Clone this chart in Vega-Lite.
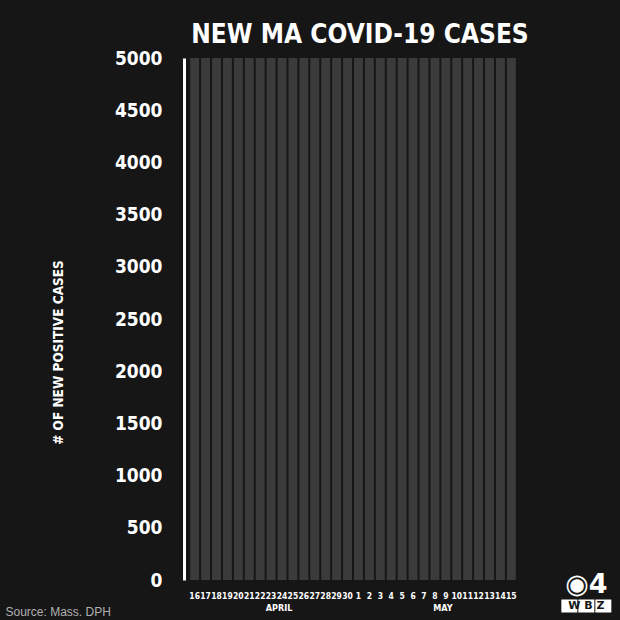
{
  "$schema": "https://vega.github.io/schema/vega-lite/v6.json",
  "width": 330,
  "height": 522,
  "autosize": {"type": "none"},
  "padding": {"left": 188, "top": 58, "right": 102, "bottom": 40},
  "background": "#161616",
  "config": {"view": {"stroke": null}, "font": "DejaVu Sans Condensed"},
  "title": {
    "text": "NEW MA COVID-19 CASES",
    "anchor": "middle",
    "frame": "group",
    "font": "DejaVu Sans Condensed",
    "fontWeight": "bold",
    "fontSize": 26,
    "color": "#ffffff",
    "baseline": "alphabetic",
    "offset": -20,
    "dx": 7
  },
  "datasets": {
    "cases": [
      {"day": "16", "month": "APRIL", "cases": 5000},
      {"day": "17", "month": "APRIL", "cases": 5000},
      {"day": "18", "month": "APRIL", "cases": 5000},
      {"day": "19", "month": "APRIL", "cases": 5000},
      {"day": "20", "month": "APRIL", "cases": 5000},
      {"day": "21", "month": "APRIL", "cases": 5000},
      {"day": "22", "month": "APRIL", "cases": 5000},
      {"day": "23", "month": "APRIL", "cases": 5000},
      {"day": "24", "month": "APRIL", "cases": 5000},
      {"day": "25", "month": "APRIL", "cases": 5000},
      {"day": "26", "month": "APRIL", "cases": 5000},
      {"day": "27", "month": "APRIL", "cases": 5000},
      {"day": "28", "month": "APRIL", "cases": 5000},
      {"day": "29", "month": "APRIL", "cases": 5000},
      {"day": "30", "month": "APRIL", "cases": 5000},
      {"day": "1", "month": "MAY", "cases": 5000},
      {"day": "2", "month": "MAY", "cases": 5000},
      {"day": "3", "month": "MAY", "cases": 5000},
      {"day": "4", "month": "MAY", "cases": 5000},
      {"day": "5", "month": "MAY", "cases": 5000},
      {"day": "6", "month": "MAY", "cases": 5000},
      {"day": "7", "month": "MAY", "cases": 5000},
      {"day": "8", "month": "MAY", "cases": 5000},
      {"day": "9", "month": "MAY", "cases": 5000},
      {"day": "10", "month": "MAY", "cases": 5000},
      {"day": "11", "month": "MAY", "cases": 5000},
      {"day": "12", "month": "MAY", "cases": 5000},
      {"day": "13", "month": "MAY", "cases": 5000},
      {"day": "14", "month": "MAY", "cases": 5000},
      {"day": "15", "month": "MAY", "cases": 5000}
    ],
    "months": [
      {"day": "23", "label": "APRIL", "cases": 0},
      {"day": "8", "label": "MAY", "cases": 0}
    ],
    "logo": [
      {"day": "15", "mark": "◉4", "letters": "W  B  Z", "cases": 0}
    ]
  },
  "encoding": {
    "x": {
      "field": "day",
      "type": "ordinal",
      "sort": null,
      "scale": {"paddingInner": 0.18, "paddingOuter": 0.2},
      "axis": {
        "title": "Source: Mass. DPH",
        "titleX": -183,
        "titleY": 31,
        "titleAlign": "left",
        "titleBaseline": "middle",
        "titleAngle": 0,
        "titleFont": "Liberation Sans",
        "titleFontWeight": "normal",
        "titleFontSize": 12,
        "titleColor": "#b0b0b0",
        "labelAngle": 0,
        "labelOverlap": false,
        "labelFont": "DejaVu Sans Condensed",
        "labelFontWeight": "bold",
        "labelFontSize": 8.5,
        "labelColor": "#ffffff",
        "labelPadding": 11,
        "labelBaseline": "top",
        "domain": false,
        "ticks": false,
        "grid": false
      }
    },
    "y": {
      "field": "cases",
      "type": "quantitative",
      "scale": {"domain": [0, 5000], "nice": false},
      "axis": {
        "title": "# OF NEW POSITIVE CASES",
        "titleX": -126,
        "titleY": 294,
        "titleAngle": -90,
        "titleAlign": "center",
        "titleBaseline": "middle",
        "titleFont": "DejaVu Sans Condensed",
        "titleFontWeight": "bold",
        "titleFontSize": 13.5,
        "titleColor": "#ffffff",
        "values": [0, 500, 1000, 1500, 2000, 2500, 3000, 3500, 4000, 4500, 5000],
        "format": "d",
        "labelFont": "DejaVu Sans Condensed",
        "labelFontWeight": "bold",
        "labelFontSize": 19,
        "labelColor": "#ffffff",
        "labelPadding": 22,
        "labelFlush": false,
        "offset": 4,
        "domainColor": "#ffffff",
        "domainWidth": 3,
        "ticks": false,
        "grid": false
      }
    }
  },
  "layer": [
    {
      "data": {"name": "cases"},
      "mark": {"type": "bar", "color": "#3b3b3b"}
    },
    {
      "data": {"name": "months"},
      "mark": {"type": "text", "color": "#ffffff", "font": "DejaVu Sans Condensed", "fontWeight": "bold", "fontSize": 9, "dy": 28, "dx": 8},
      "encoding": {"text": {"field": "label"}}
    },
    {
      "data": {"name": "logo"},
      "mark": {"type": "point", "filled": true, "opacity": 1, "color": "#ffffff", "size": 2500, "shape": "M-1,-0.26H-0.36V0.26H-1Z M-0.32,-0.26H0.32V0.26H-0.32Z M0.36,-0.26H1V0.26H0.36Z", "xOffset": 75, "yOffset": 26}
    },
    {
      "data": {"name": "logo"},
      "mark": {"type": "text", "color": "#161616", "font": "DejaVu Sans", "fontWeight": "bold", "fontSize": 11, "dx": 75, "dy": 26},
      "encoding": {"text": {"field": "letters"}}
    },
    {
      "data": {"name": "logo"},
      "mark": {"type": "text", "color": "#ffffff", "font": "DejaVu Sans", "fontWeight": "bold", "fontSize": 27, "dx": 75, "dy": 5},
      "encoding": {"text": {"field": "mark"}}
    }
  ]
}
